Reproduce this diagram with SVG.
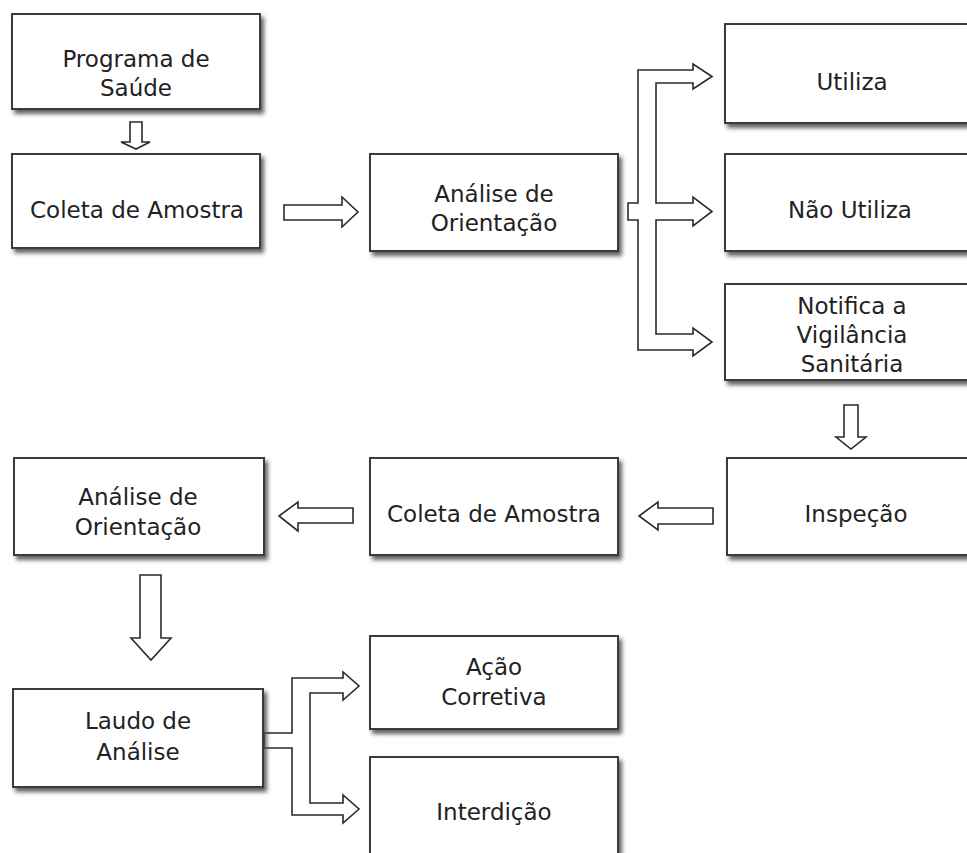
<svg xmlns="http://www.w3.org/2000/svg" width="967" height="853" viewBox="0 0 967 853">
<defs>
<filter id="sh" x="-10%" y="-10%" width="130%" height="140%">
<feDropShadow dx="3" dy="4" stdDeviation="2" flood-color="#444" flood-opacity="0.85"/>
</filter>
</defs>
<style>
.box{fill:#fff;stroke:#3a3a3a;stroke-width:2;filter:url(#sh)}
.arr{fill:#fff;stroke:#2a2a2a;stroke-width:1.6;stroke-linejoin:miter}
text{font-family:"DejaVu Sans",Verdana,sans-serif;font-size:23px;fill:#222;text-anchor:middle}
</style>
<rect width="967" height="853" fill="#fff"/>
<g id="connectors">
<polygon class="arr" points="130,122 142,122 142,142 150,142 136,149 121,142 130,142"/>
<polygon class="arr" points="284,205 342,205 342,197 358,212 342,227 342,220 284,220"/>
<polygon class="arr" points="628,203 638,203 638,70 693,70 693,64 712,76.5 693,89 693,83 656,83 656,203 693,203 693,197 712,211.5 693,226 693,220 656,220 656,334 693,334 693,328 712,342 693,356 693,350 638,350 638,220 628,220"/>
<polygon class="arr" points="844,405 858,405 858,437 866,437 851,449 836,437 844,437"/>
<polygon class="arr" points="713,508 713,524 658,524 658,530 639,516 658,502 658,508"/>
<polygon class="arr" points="353,508 353,523 298,523 298,531 279,516 298,502 298,508"/>
<polygon class="arr" points="140,575 161,575 161,638 171,638 151,660 131,638 140,638"/>
<polygon class="arr" points="264,733 292,733 292,678 343,678 343,672 359,686 343,700 343,693 310,693 310,803 343,803 343,795 359,809 343,823 343,815 292,815 292,748 264,748"/>
</g>
<g id="programa"><rect class="box" x="12" y="14" width="248" height="95"/><text x="136" y="67">Programa de</text><text x="136" y="96">Saúde</text></g>
<g id="coleta1"><rect class="box" x="12" y="154" width="248" height="94"/><text x="137" y="218">Coleta de Amostra</text></g>
<g id="analise1"><rect class="box" x="370" y="154" width="248" height="97"/><text x="494" y="202">Análise de</text><text x="494" y="231">Orientação</text></g>
<g id="utiliza"><rect class="box" x="725" y="24" width="250" height="99"/><text x="852" y="90">Utiliza</text></g>
<g id="nao-utiliza"><rect class="box" x="725" y="154" width="250" height="97"/><text x="850" y="218">Não Utiliza</text></g>
<g id="notifica"><rect class="box" x="725" y="284" width="250" height="96"/><text x="852" y="314">Notifica a</text><text x="852" y="343">Vigilância</text><text x="852" y="372">Sanitária</text></g>
<g id="inspecao"><rect class="box" x="727" y="458" width="250" height="97"/><text x="856" y="522">Inspeção</text></g>
<g id="coleta2"><rect class="box" x="370" y="458" width="248" height="97"/><text x="494" y="522">Coleta de Amostra</text></g>
<g id="analise2"><rect class="box" x="14" y="458" width="250" height="97"/><text x="138" y="505">Análise de</text><text x="138" y="535">Orientação</text></g>
<g id="laudo"><rect class="box" x="13" y="689" width="250" height="98"/><text x="138" y="729">Laudo de</text><text x="138" y="760">Análise</text></g>
<g id="acao"><rect class="box" x="370" y="636" width="248" height="93"/><text x="494" y="675">Ação</text><text x="494" y="705">Corretiva</text></g>
<g id="interdicao"><rect class="box" x="370" y="757" width="248" height="120"/><text x="494" y="820">Interdição</text></g>
</svg>
